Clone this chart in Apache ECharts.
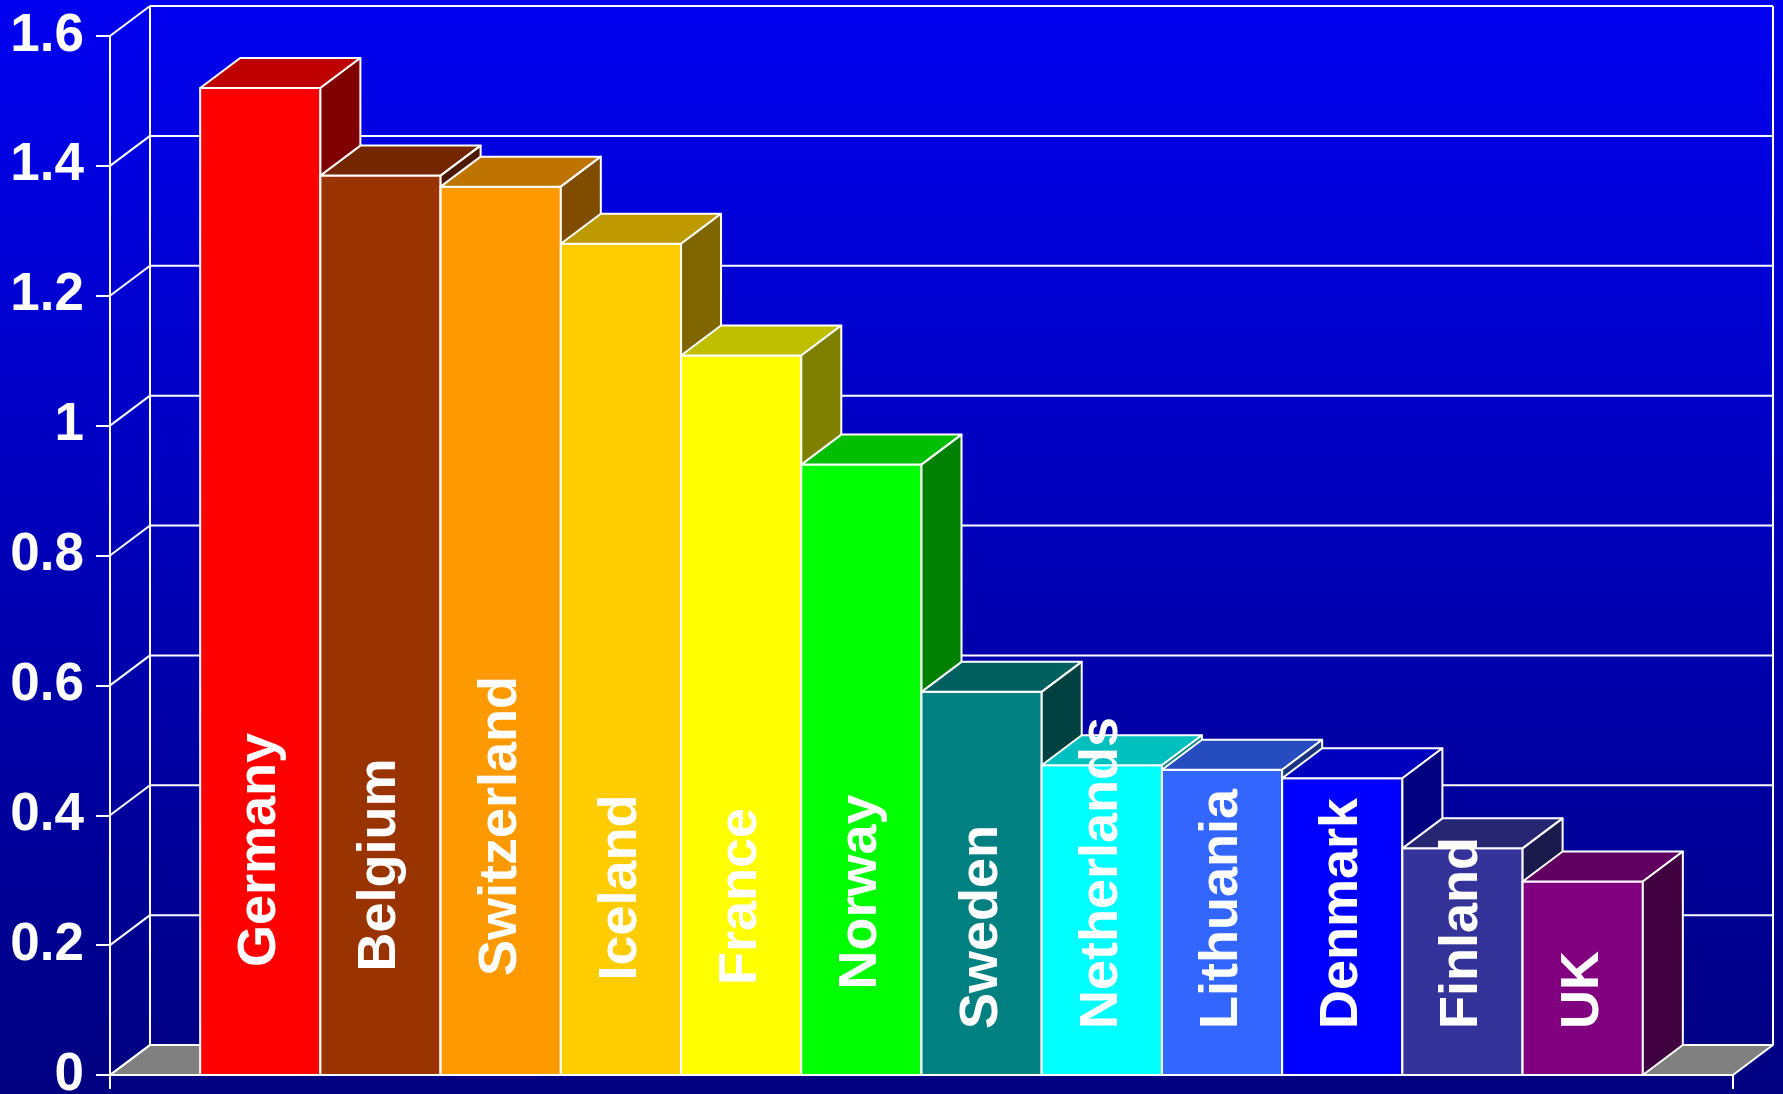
<!DOCTYPE html>
<html>
<head>
<meta charset="utf-8">
<script src="https://cdn.jsdelivr.net/npm/echarts@6/dist/echarts.min.js"></script>
<style>
html,body{margin:0;padding:0;background:#000080;overflow:hidden;}
#chart{width:1783px;height:1094px;}
</style>
</head>
<body>
<div id="chart"></div>
<script>
// ---- data ----
const countries = ['Germany','Belgium','Switzerland','Iceland','France','Norway','Sweden','Netherlands','Lithuania','Denmark','Finland','UK'];
const values = [1.52, 1.385, 1.368, 1.28, 1.108, 0.94, 0.59, 0.477, 0.470, 0.457, 0.349, 0.298];
const barColors = ['#FF0000','#993300','#FF9900','#FFCC00','#FFFF00','#00FF00','#008080','#00FFFF','#3366FF','#0000FF','#333399','#800080'];
const yTicks = [0, 0.2, 0.4, 0.6, 0.8, 1, 1.2, 1.4, 1.6];

// ---- style constants ----
const DX = 40, DY = -30;           // depth offset of the 3D box
const FONT = '"Liberation Sans", Arial, sans-serif';
const LINE = {stroke:'#ffffff', lineWidth:2, lineJoin:'round'};
const X_MIN = -1.25, X_MAX = 12.25;

function shade(hex, f){
  const n = parseInt(hex.slice(1), 16);
  const r = Math.round(((n>>16)&255)*f), g = Math.round(((n>>8)&255)*f), b = Math.round((n&255)*f);
  return 'rgb(' + r + ',' + g + ',' + b + ')';
}
function ls(){ return Object.assign({}, LINE); }

const chart = echarts.init(document.getElementById('chart'), null, {renderer:'canvas'});

function renderFrame(params, api){
  const yMax = yTicks[yTicks.length-1];
  const fl = api.coord([X_MIN, 0]);   // front-left bottom
  const fr = api.coord([X_MAX, 0]);   // front-right bottom
  const tl = api.coord([X_MIN, yMax]);
  const ch = [];
  // floor
  ch.push({type:'polygon', shape:{points:[[fl[0],fl[1]],[fl[0]+DX,fl[1]+DY],[fr[0]+DX,fr[1]+DY],[fr[0],fr[1]]]},
           style:Object.assign({fill:'#808080'}, LINE)});
  // back wall grid lines + left wall connectors
  yTicks.forEach(function(v){
    const p = api.coord([X_MIN, v]);
    const q = api.coord([X_MAX, v]);
    if (v > 0) ch.push({type:'line', shape:{x1:p[0]+DX, y1:p[1]+DY, x2:q[0]+DX, y2:q[1]+DY}, style:ls()});
    ch.push({type:'line', shape:{x1:p[0], y1:p[1], x2:p[0]+DX, y2:p[1]+DY}, style:ls()});
  });
  // back wall verticals
  ch.push({type:'line', shape:{x1:tl[0]+DX, y1:tl[1]+DY, x2:fl[0]+DX, y2:fl[1]+DY}, style:ls()});
  ch.push({type:'line', shape:{x1:fr[0]+DX, y1:tl[1]+DY, x2:fr[0]+DX, y2:fr[1]+DY}, style:ls()});
  // front vertical axis line (extends a little below zero)
  ch.push({type:'line', shape:{x1:tl[0], y1:tl[1], x2:fl[0], y2:fl[1]+14}, style:ls()});
  // front bottom axis line with end ticks
  ch.push({type:'line', shape:{x1:fl[0], y1:fl[1], x2:fr[0], y2:fr[1]}, style:ls()});
  ch.push({type:'line', shape:{x1:fr[0], y1:fr[1], x2:fr[0], y2:fr[1]+14}, style:ls()});
  return {type:'group', children:ch};
}

function renderBar(params, api){
  const i = api.value(0), v = api.value(1);
  const p0 = api.coord([i - 0.5, 0]);
  const p1 = api.coord([i + 0.5, v]);
  const xl = p0[0], xr = p1[0], yb = p0[1], yt = p1[1];
  const c = barColors[i];
  return {type:'group', children:[
    {type:'rect', shape:{x:xl, y:yt, width:xr-xl, height:yb-yt}, style:Object.assign({fill:c}, LINE)},
    {type:'polygon', shape:{points:[[xl,yt],[xr,yt],[xr+DX,yt+DY],[xl+DX,yt+DY]]}, style:Object.assign({fill:shade(c,0.75)}, LINE)},
    {type:'polygon', shape:{points:[[xr,yt],[xr+DX,yt+DY],[xr+DX,yb+DY],[xr,yb]]}, style:Object.assign({fill:shade(c,0.5)}, LINE)}
  ]};
}

function renderLabel(params, api){
  const i = api.value(0), v = api.value(1);
  const p = api.coord([i, 0]);
  const lift = v > 0.8 ? 108 - 4.5 * i : 46;
  return {type:'text', x:p[0], y:p[1] - lift, rotation:Math.PI/2,
          style:{text:countries[i], fill:'#ffffff', font:'bold 54px ' + FONT, align:'left', verticalAlign:'middle'}};
}

const barData = values.map(function(v, i){ return [i, v]; });

chart.setOption({
  animation:false,
  backgroundColor:'transparent',
  graphic:[{type:'rect', z:-10, silent:true, shape:{x:0, y:0, width:1783, height:1094},
    style:{fill:new echarts.graphic.LinearGradient(0,0,0,1,[{offset:0,color:'#0000F0'},{offset:1,color:'#000080'}])}}],
  grid:{left:110, right:50, top:36, bottom:19, containLabel:false, outerBoundsMode:'none'},
  xAxis:{type:'value', min:X_MIN, max:X_MAX, show:false},
  yAxis:{type:'value', min:yTicks[0], max:yTicks[yTicks.length-1], interval:0.2,
    axisLine:{show:true, onZero:false, lineStyle:{color:'#ffffff', width:2}},
    axisTick:{show:true, inside:false, length:14, lineStyle:{color:'#ffffff', width:2}},
    splitLine:{show:false},
    axisLabel:{color:'#ffffff', fontWeight:'bold', fontSize:53, fontFamily:FONT, margin:26,
      formatter:function(v){ return String(+v.toFixed(1)); }}
  },
  series:[
    {type:'custom', name:'frame', z:1, silent:true, data:[[0,0]], renderItem:renderFrame},
    {type:'custom', name:'bars', z:2, silent:true, data:barData, renderItem:renderBar},
    {type:'custom', name:'labels', z:3, silent:true, data:barData, renderItem:renderLabel}
  ]
});
</script>
</body>
</html>
